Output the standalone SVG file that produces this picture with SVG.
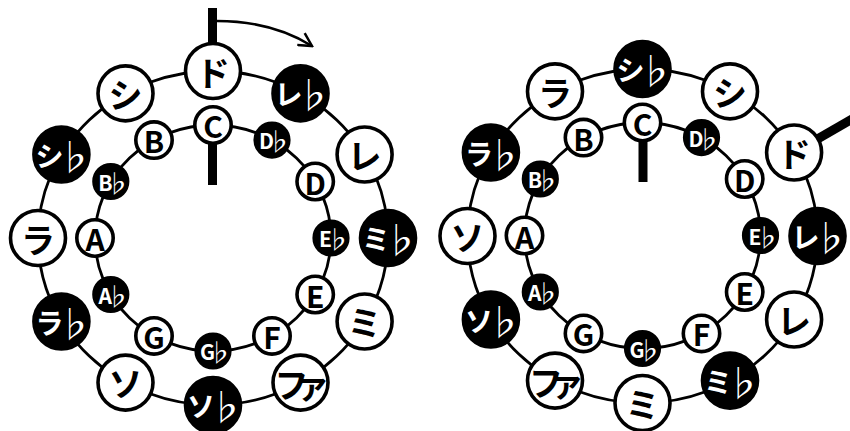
<svg xmlns="http://www.w3.org/2000/svg" width="850" height="431" viewBox="0 0 850 431">
<style>
text{font-family:"Noto Sans CJK JP","Noto Sans",sans-serif;font-weight:700;text-anchor:middle;dominant-baseline:central;}
.ring{fill:none;stroke:#000;stroke-width:2.8}
.bar{stroke:#000;stroke-width:9;stroke-linecap:butt}
.ow{fill:#fff;stroke:#000;stroke-width:3.6}
.ob{fill:#000;stroke:#000;stroke-width:3.6}
.k{font-size:34px;fill:#000}
.kw{font-size:28px;fill:#fff}
.l{font-size:30px;fill:#000}
.lw{font-size:21px;fill:#fff}
.fk{font-weight:400;font-size:36px}
.fi{font-weight:400;font-size:25px}
</style>
<defs>
<marker id="ah" markerUnits="userSpaceOnUse" markerWidth="16" markerHeight="16" viewBox="-1 -1 16 16" refX="13" refY="7" orient="auto">
<path d="M0,0 L13,7 L0,14" fill="none" stroke="#000" stroke-width="2.5"/>
</marker>
</defs>
<g id="connectors">
<ellipse class="ring" cx="213" cy="238" rx="175" ry="167"/>
<ellipse class="ring" cx="213" cy="238" rx="118" ry="113"/>
<line class="bar" x1="212.5" y1="8" x2="212.5" y2="71"/>
<line class="bar" x1="212.5" y1="125" x2="212.5" y2="185"/>
<path d="M217,21 Q272,21 312,46" fill="none" stroke="#000" stroke-width="2.5" marker-end="url(#ah)"/>
<ellipse class="ring" cx="642.5" cy="236" rx="175" ry="167"/>
<ellipse class="ring" cx="642.5" cy="235.5" rx="118" ry="113"/>
<line class="bar" x1="643" y1="122.5" x2="643" y2="182"/>
<line class="bar" x1="794.1" y1="152.5" x2="856" y2="116.8"/>
</g>
<g id="left-outer">
<g id="L-do" transform="translate(213,71)"><circle class="ow" r="27.5"/><text class="k">ド</text></g>
<g id="L-reb" transform="translate(300.5,93.4)"><circle class="ob" r="27.5"/><text class="kw"><tspan x="-12">レ</tspan><tspan class="fk" x="13">♭</tspan></text></g>
<g id="L-re" transform="translate(364.6,154.5)"><circle class="ow" r="27.5"/><text class="k">レ</text></g>
<g id="L-mib" transform="translate(388,238)"><circle class="ob" r="27.5"/><text class="kw"><tspan x="-12">ミ</tspan><tspan class="fk" x="13">♭</tspan></text></g>
<g id="L-mi" transform="translate(364.6,321.5)"><circle class="ow" r="27.5"/><text class="k">ミ</text></g>
<g id="L-fa" transform="translate(300.5,382.6)"><circle class="ow" r="27.5"/><text class="k" font-size="31"><tspan x="-9">フ</tspan><tspan x="12">ァ</tspan></text></g>
<g id="L-solb" transform="translate(213,405)"><circle class="ob" r="27.5"/><text class="kw"><tspan x="-12">ソ</tspan><tspan class="fk" x="13">♭</tspan></text></g>
<g id="L-sol" transform="translate(125.5,382.6)"><circle class="ow" r="27.5"/><text class="k">ソ</text></g>
<g id="L-lab" transform="translate(61.4,321.5)"><circle class="ob" r="27.5"/><text class="kw"><tspan x="-12">ラ</tspan><tspan class="fk" x="13">♭</tspan></text></g>
<g id="L-la" transform="translate(38,238)"><circle class="ow" r="27.5"/><text class="k">ラ</text></g>
<g id="L-sib" transform="translate(61.4,154.5)"><circle class="ob" r="27.5"/><text class="kw"><tspan x="-12">シ</tspan><tspan class="fk" x="13">♭</tspan></text></g>
<g id="L-si" transform="translate(125.5,93.4)"><circle class="ow" r="27.5"/><text class="k">シ</text></g>
</g>
<g id="left-inner">
<g id="L-C" transform="translate(213,125)"><circle class="ow" r="18.2"/><text class="l">C</text></g>
<g id="L-Db" transform="translate(272,140.1)"><circle class="ob" r="16.8"/><text class="lw"><tspan x="-5.5">D</tspan><tspan class="fi" x="7">♭</tspan></text></g>
<g id="L-D" transform="translate(315.2,181.5)"><circle class="ow" r="18.2"/><text class="l">D</text></g>
<g id="L-Eb" transform="translate(331,238)"><circle class="ob" r="16.8"/><text class="lw"><tspan x="-5.5">E</tspan><tspan class="fi" x="7">♭</tspan></text></g>
<g id="L-E" transform="translate(315.2,294.5)"><circle class="ow" r="18.2"/><text class="l">E</text></g>
<g id="L-F" transform="translate(272,335.9)"><circle class="ow" r="18.2"/><text class="l">F</text></g>
<g id="L-Gb" transform="translate(213,351)"><circle class="ob" r="16.8"/><text class="lw"><tspan x="-5.5">G</tspan><tspan class="fi" x="7">♭</tspan></text></g>
<g id="L-G" transform="translate(154,335.9)"><circle class="ow" r="18.2"/><text class="l">G</text></g>
<g id="L-Ab" transform="translate(110.8,294.5)"><circle class="ob" r="16.8"/><text class="lw"><tspan x="-5.5">A</tspan><tspan class="fi" x="7">♭</tspan></text></g>
<g id="L-A" transform="translate(95,238)"><circle class="ow" r="18.2"/><text class="l">A</text></g>
<g id="L-Bb" transform="translate(110.8,181.5)"><circle class="ob" r="16.8"/><text class="lw"><tspan x="-5.5">B</tspan><tspan class="fi" x="7">♭</tspan></text></g>
<g id="L-B" transform="translate(154,140.1)"><circle class="ow" r="18.2"/><text class="l">B</text></g>
</g>
<g id="right-outer">
<g id="R-sib" transform="translate(642.5,69)"><circle class="ob" r="27.5"/><text class="kw"><tspan x="-12">シ</tspan><tspan class="fk" x="13">♭</tspan></text></g>
<g id="R-si" transform="translate(730,91.4)"><circle class="ow" r="27.5"/><text class="k">シ</text></g>
<g id="R-do" transform="translate(794.1,152.5)"><circle class="ow" r="27.5"/><text class="k">ド</text></g>
<g id="R-reb" transform="translate(817.5,236)"><circle class="ob" r="27.5"/><text class="kw"><tspan x="-12">レ</tspan><tspan class="fk" x="13">♭</tspan></text></g>
<g id="R-re" transform="translate(794.1,319.5)"><circle class="ow" r="27.5"/><text class="k">レ</text></g>
<g id="R-mib" transform="translate(730,380.6)"><circle class="ob" r="27.5"/><text class="kw"><tspan x="-12">ミ</tspan><tspan class="fk" x="13">♭</tspan></text></g>
<g id="R-mi" transform="translate(642.5,403)"><circle class="ow" r="27.5"/><text class="k">ミ</text></g>
<g id="R-fa" transform="translate(555,380.6)"><circle class="ow" r="27.5"/><text class="k" font-size="31"><tspan x="-9">フ</tspan><tspan x="12">ァ</tspan></text></g>
<g id="R-solb" transform="translate(490.9,319.5)"><circle class="ob" r="27.5"/><text class="kw"><tspan x="-12">ソ</tspan><tspan class="fk" x="13">♭</tspan></text></g>
<g id="R-sol" transform="translate(467.5,236)"><circle class="ow" r="27.5"/><text class="k">ソ</text></g>
<g id="R-lab" transform="translate(490.9,152.5)"><circle class="ob" r="27.5"/><text class="kw"><tspan x="-12">ラ</tspan><tspan class="fk" x="13">♭</tspan></text></g>
<g id="R-la" transform="translate(555,91.4)"><circle class="ow" r="27.5"/><text class="k">ラ</text></g>
</g>
<g id="right-inner">
<g id="R-C" transform="translate(642.5,122.5)"><circle class="ow" r="18.2"/><text class="l">C</text></g>
<g id="R-Db" transform="translate(701.5,137.6)"><circle class="ob" r="16.8"/><text class="lw"><tspan x="-5.5">D</tspan><tspan class="fi" x="7">♭</tspan></text></g>
<g id="R-D" transform="translate(744.7,179)"><circle class="ow" r="18.2"/><text class="l">D</text></g>
<g id="R-Eb" transform="translate(760.5,235.5)"><circle class="ob" r="16.8"/><text class="lw"><tspan x="-5.5">E</tspan><tspan class="fi" x="7">♭</tspan></text></g>
<g id="R-E" transform="translate(744.7,292)"><circle class="ow" r="18.2"/><text class="l">E</text></g>
<g id="R-F" transform="translate(701.5,333.4)"><circle class="ow" r="18.2"/><text class="l">F</text></g>
<g id="R-Gb" transform="translate(642.5,348.5)"><circle class="ob" r="16.8"/><text class="lw"><tspan x="-5.5">G</tspan><tspan class="fi" x="7">♭</tspan></text></g>
<g id="R-G" transform="translate(583.5,333.4)"><circle class="ow" r="18.2"/><text class="l">G</text></g>
<g id="R-Ab" transform="translate(540.3,292)"><circle class="ob" r="16.8"/><text class="lw"><tspan x="-5.5">A</tspan><tspan class="fi" x="7">♭</tspan></text></g>
<g id="R-A" transform="translate(524.5,235.5)"><circle class="ow" r="18.2"/><text class="l">A</text></g>
<g id="R-Bb" transform="translate(540.3,179)"><circle class="ob" r="16.8"/><text class="lw"><tspan x="-5.5">B</tspan><tspan class="fi" x="7">♭</tspan></text></g>
<g id="R-B" transform="translate(583.5,137.6)"><circle class="ow" r="18.2"/><text class="l">B</text></g>
</g>
</svg>
